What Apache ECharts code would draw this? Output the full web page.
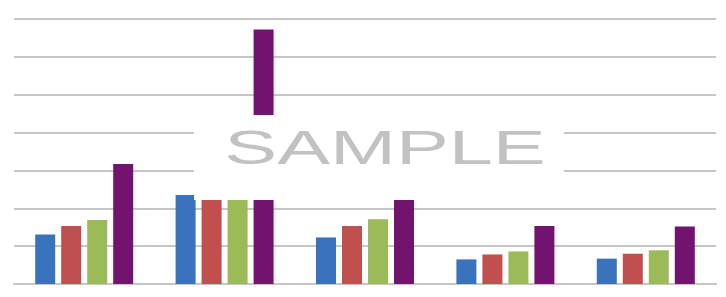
<!DOCTYPE html>
<html>
<head>
<meta charset="utf-8">
<script src="https://cdn.jsdelivr.net/npm/echarts@6/dist/echarts.min.js"></script>
<style>
  html, body { margin: 0; padding: 0; background: #fff; }
  #chart { width: 726px; height: 297px; }
</style>
</head>
<body>
<div id="chart"></div>
<script>
const categories = ['1', '2', '3', '4', '5']
const seriesNames = ['Series 1', 'Series 2', 'Series 3', 'Series 4']
const blueValues = [1.31, 2.35, 1.23, 0.65, 0.67]
const redValues = [1.53, 2.6, 1.53, 0.78, 0.8]
const greenValues = [1.69, 2.6, 1.71, 0.86, 0.89]
const purpleValues = [3.17, 6.72, 2.3, 1.53, 1.52]
const colors = ['#3873bc', '#c0504d', '#9bbb59', '#72146f']

const chart = echarts.init(document.getElementById('chart'))

const makeBar = (name, data, color) => ({
  name,
  type: 'bar',
  data,
  barWidth: 20,
  barGap: '30%',
  itemStyle: { color },
})

const option = {
  animation: false,
  grid: { left: 14, right: 10, top: 19, bottom: 13 },
  xAxis: {
    type: 'category',
    data: categories,
    axisLine: { show: true, lineStyle: { color: '#c6c6c6', width: 2 } },
    axisTick: { show: false },
    axisLabel: { show: false },
  },
  yAxis: {
    type: 'value',
    min: 0,
    max: 7,
    interval: 1,
    axisLabel: { show: false },
    axisLine: { show: false },
    axisTick: { show: false },
    splitLine: { lineStyle: { color: '#c6c6c6', width: 2 } },
  },
  series: [
    makeBar(seriesNames[0], blueValues, colors[0]),
    makeBar(seriesNames[1], redValues, colors[1]),
    makeBar(seriesNames[2], greenValues, colors[2]),
    makeBar(seriesNames[3], purpleValues, colors[3]),
  ],
  // watermark box over the middle of the plot
  graphic: [
    {
      type: 'rect',
      z: 100,
      shape: { x: 194, y: 115, width: 370, height: 85 },
      style: { fill: '#ffffff' },
    },
    {
      type: 'text',
      z: 101,
      x: 385,
      y: 151,
      scaleX: 1.65,
      style: {
        text: 'SAMPLE',
        fontFamily: 'Liberation Sans',
        fontSize: 48,
        fill: '#c2c2c2',
        align: 'center',
        verticalAlign: 'middle',
      },
    },
  ],
}

chart.setOption(option)
</script>
</body>
</html>
